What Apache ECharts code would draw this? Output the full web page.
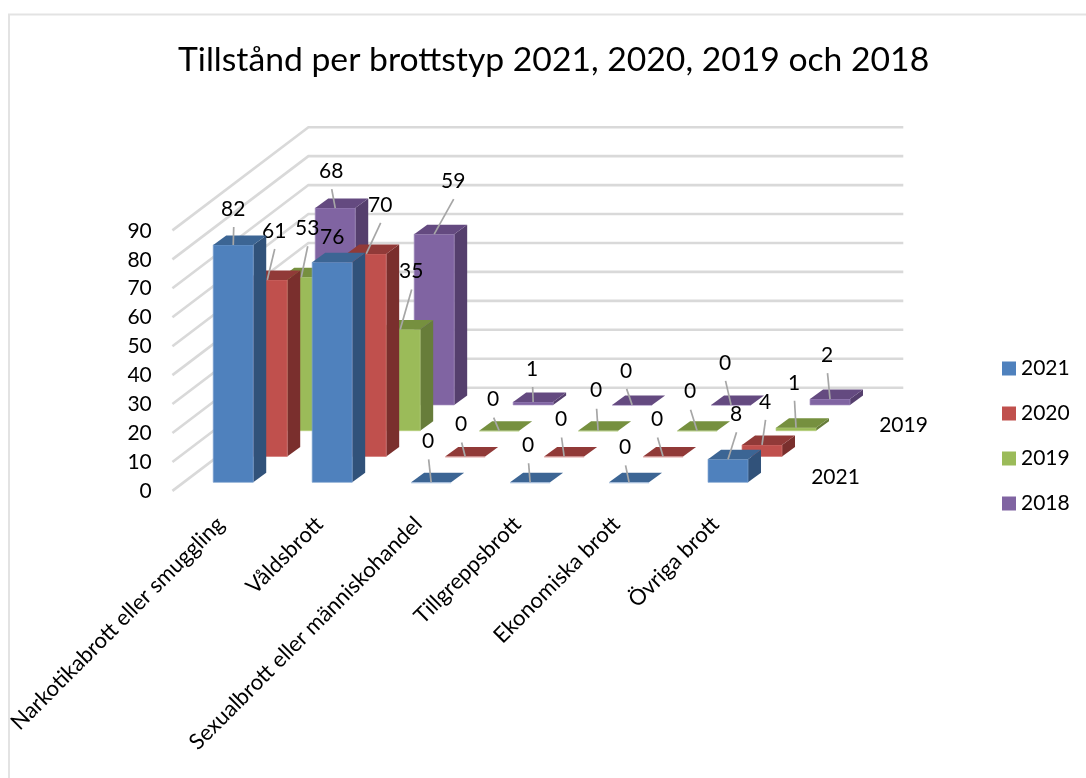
<!DOCTYPE html>
<html>
<head>
<meta charset="utf-8">
<style>html,body{margin:0;padding:0;background:#fff}#c{width:1086px;height:778px}</style>
<script src="https://cdn.jsdelivr.net/npm/echarts@6/dist/echarts.min.js"></script>
</head>
<body>
<div id="c"></div>
<script>
const categories = ['Narkotikabrott eller smuggling','Våldsbrott','Sexualbrott eller människohandel','Tillgreppsbrott','Ekonomiska brott','Övriga brott'];
const values2021 = [82,76,0,0,0,8];
const values2020 = [61,70,0,0,0,4];
const values2019 = [53,35,0,0,0,1];
const values2018 = [68,59,1,0,0,2];
const valueTicks = [0,10,20,30,40,50,60,70,80,90];
const depthLabels = ['2021','2019'];
const depthRows = [0,2];

// data-label placement relative to each bar's top (manual label layout of the original)
const labelOffsets2021 = [[0,-36],[0,-25],[-3,-41],[-2,-37],[-4,-35],[8,-45]];
const labelOffsets2020 = [[7,-49],[14,-49],[-4,-32],[-3,-37],[-6,-37],[3,-43]];
const labelOffsets2019 = [[6,-49],[11,-58],[-6,-31],[-2,-40],[-7,-39],[-2,-45]];
const labelOffsets2018 = [[-4,-37],[19,-53],[-1,-33],[-6,-34],[-6,-42],[-3,-44]];

// oblique projection constants
const ROW_DX = 34, ROW_DY = -25.8, BAR_DX = 13, BAR_DY = -9.5, BAR_RATIO = 0.404;
const FONT = 'Lato';

function barSeries(name, values, offsets, row, c) {
  return {
    name, type: 'custom', coordinateSystem: 'cartesian2d', silent: true,
    itemStyle: {color: c.front},
    encode: {x: 0, y: 1},
    data: values.map((v, i) => [i, v]),
    renderItem(params, api) {
      const i = api.value(0), v = api.value(1);
      const top = api.coord([i, v]), base = api.coord([i, 0]);
      const w = api.size([1, 0])[0] * BAR_RATIO;
      const cx = top[0] + ROW_DX * row;
      const x0 = cx - w / 2, x1 = cx + w / 2;
      const yt = top[1] + ROW_DY * row, yb = base[1] + ROW_DY * row;
      const kids = [];
      if (yb - yt > 0.1) {
        kids.push({type: 'polygon', shape: {points: [[x1,yb],[x1+BAR_DX,yb+BAR_DY],[x1+BAR_DX,yt+BAR_DY],[x1,yt]]}, style: {fill: c.side}});
        kids.push({type: 'rect', shape: {x: x0, y: yt, width: w, height: yb - yt}, style: {fill: c.front, stroke: c.edge, lineWidth: 0.7}});
      }
      kids.push({type: 'polygon', shape: {points: [[x0,yt],[x1,yt],[x1+BAR_DX,yt+BAR_DY],[x0+BAR_DX,yt+BAR_DY]]}, style: {fill: c.top}});
      if (yb - yt <= 0.1) {
        kids.push({type: 'line', shape: {x1: x0, y1: yt + 0.5, x2: x1, y2: yt + 0.5}, style: {stroke: c.edge, lineWidth: 0.7}});
      }
      const off = offsets[params.dataIndex];
      const lx = cx + off[0], ly = yt + off[1];
      if (off[1] < -30) {
        kids.push({type: 'line', shape: {x1: cx, y1: yt, x2: lx + 0.5, y2: ly + 18}, style: {stroke: '#a6a6a6', lineWidth: 1.7}});
      }
      kids.push({type: 'text', style: {text: String(v), x: lx, y: ly, align: 'center', verticalAlign: 'middle', fontFamily: FONT, fontSize: 21, fill: '#000'}});
      return {type: 'group', children: kids};
    }
  };
}

const wallSeries = {
  name: 'wall', type: 'custom', coordinateSystem: 'cartesian2d', silent: true, z: 1,
  encode: {x: 0, y: 1},
  data: valueTicks.map(t => [0, t]),
  renderItem(params, api) {
    const p = api.coord([0, api.value(1)]);
    const band = api.size([1, 0])[0];
    const left = p[0] - band / 2, y = p[1];
    const right = left + band * categories.length;
    return {type: 'polyline', shape: {points: [
      [left - ROW_DX / 3, y - ROW_DY / 3],
      [left - ROW_DX / 3 + ROW_DX * 4, y - ROW_DY / 3 + ROW_DY * 4],
      [right + ROW_DX * 3.7, y - ROW_DY / 3 + ROW_DY * 4]
    ]}, style: {stroke: '#d9d9d9', lineWidth: 2.6, fill: 'none'}};
  }
};

const depthSeries = {
  name: 'depth', type: 'custom', coordinateSystem: 'cartesian2d', silent: true, z: 3,
  encode: {x: 0, y: 1},
  data: depthRows.map(r => [categories.length - 1, 0, r]),
  renderItem(params, api) {
    const p = api.coord([api.value(0), 0]);
    const band = api.size([1, 0])[0];
    const r = api.value(2);
    return {type: 'text', style: {text: depthLabels[params.dataIndex], x: p[0] + band / 2 + 58 + ROW_DX * r, y: p[1] - 5 + ROW_DY * r, align: 'center', verticalAlign: 'middle', fontFamily: FONT, fontSize: 21, fill: '#000'}};
  }
};

const palette = {
  y2021: {front:'#4f81bd', side:'#31527a', top:'#3c6594', edge:'#7ba0cf'},
  y2020: {front:'#c0504d', side:'#7a2f2d', top:'#913a38', edge:'#d27a77'},
  y2019: {front:'#9bbb59', side:'#677d3a', top:'#76903f', edge:'#b6d07c'},
  y2018: {front:'#8064a2', side:'#553f6d', top:'#644a80', edge:'#9f8abb'}
};

const chart = echarts.init(document.getElementById('c'), null, {renderer: 'canvas'});
chart.setOption({
  animation: false,
  backgroundColor: '#fff',
  title: {text: 'Tillstånd per brottstyp 2021, 2020, 2019 och 2018', left: 173, top: 38,
    textStyle: {fontFamily: FONT, fontSize: 33.7, fontWeight: 'normal', color: '#000'}},
  legend: {orient: 'vertical', left: 997, top: 353, itemWidth: 14, itemHeight: 14, itemGap: 24, icon: 'rect',
    data: ['2021','2020','2019','2018'], selectedMode: false,
    textStyle: {fontFamily: FONT, fontSize: 21, color: '#000'}},
  grid: {left: 183.5, width: 594, top: 221.8, height: 260.5},
  xAxis: {type: 'category', data: categories, axisLine: {show: false}, axisTick: {show: false},
    axisLabel: {rotate: 45, interval: 0, margin: 51, verticalAlign: 'bottom', lineHeight: 36, fontFamily: FONT, fontSize: 22, color: '#000'}},
  yAxis: {type: 'value', min: 0, max: 90, interval: 10, axisLine: {show: false}, axisTick: {show: false}, splitLine: {show: false},
    axisLabel: {margin: 32, verticalAlign: 'top', lineHeight: 18, fontFamily: FONT, fontSize: 21, color: '#000'}},
  graphic: [{type: 'polyline', silent: true, shape: {points: [[9,778],[9,14.5],[1086,14.5]]}, style: {stroke: '#e3e3e3', lineWidth: 2, fill: 'none'}}],
  series: [
    wallSeries,
    barSeries('2018', values2018, labelOffsets2018, 3, palette.y2018),
    barSeries('2019', values2019, labelOffsets2019, 2, palette.y2019),
    barSeries('2020', values2020, labelOffsets2020, 1, palette.y2020),
    barSeries('2021', values2021, labelOffsets2021, 0, palette.y2021),
    depthSeries
  ]
});
</script>
</body>
</html>
